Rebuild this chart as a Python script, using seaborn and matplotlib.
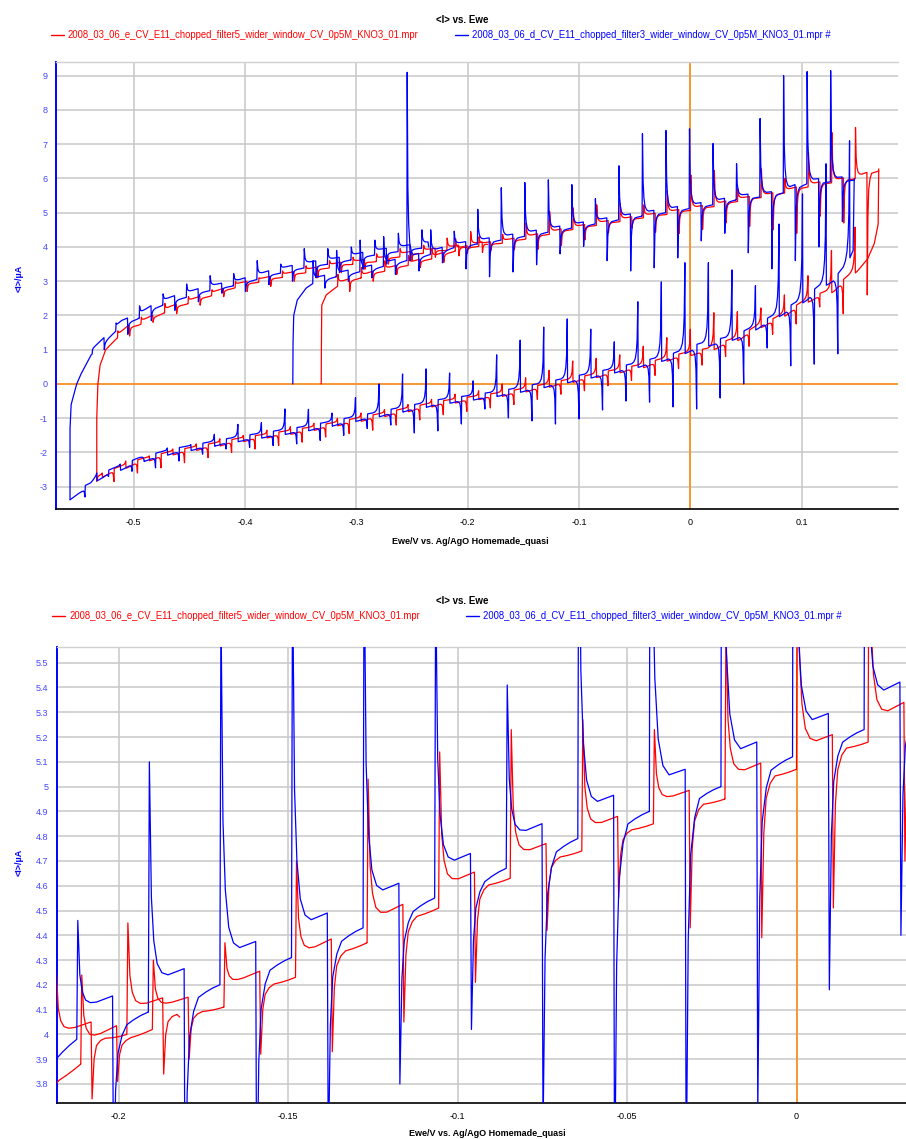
import numpy as np
import pandas as pd
import matplotlib
matplotlib.use("Agg")
import matplotlib.pyplot as plt
import seaborn as sns
from matplotlib import font_manager
from matplotlib.lines import Line2D
from matplotlib.ticker import MultipleLocator, FuncFormatter

# ---------------------------------------------------------------- data
FILES = [
    "2008_03_06_e_CV_E11_chopped_filter5_wider_window_CV_0p5M_KNO3_01.mpr",
    "2008_03_06_d_CV_E11_chopped_filter3_wider_window_CV_0p5M_KNO3_01.mpr #",
]
COLORS = ["#ff0000", "#0000ff"]

# light chopping expressed in potential units (scan rate x chop period)
CHOP = 0.02112
HALF = CHOP / 2

# --- file d (blue) --------------------------------------------------
# first anodic sweep, starting from rest potential
d_fwd1_E = [-0.357, -0.3568, -0.3562, -0.353, -0.345, -0.336, -0.315, -0.286, -0.255,
            -0.225, -0.2124, -0.1913, -0.1702, -0.149, -0.1279, -0.1068, -0.0857,
            -0.0646, -0.0434, -0.0223, -0.0012, 0.0199, 0.045, 0.075, 0.09, 0.105,
            0.125, 0.147]
d_fwd1_I = [0.0, 1.2, 2.0, 2.45, 2.8, 3.0, 3.15, 3.35, 3.6,
            3.85, 3.98, 4.09, 4.2, 4.31, 4.43, 4.55, 4.67,
            4.79, 4.9, 5.0, 5.12, 5.23, 5.4, 5.5, 5.65, 5.85,
            5.9, 5.95]
d_fwd1_first = -0.3391
d_fwd1_peaks = [3.6, 3.9, 4.2, 4.3, 9.1, 4.5, 4.46, 5.10, 5.73, 5.88, 5.96, 5.82,
                5.41, 6.37, 7.31, 7.4, 7.45, 7.02, 6.43, 7.75, 9.0, 9.12, 9.15]
d_fwd1_dips = [2.8, 3.0, 3.1, 3.2, 3.3, 3.54, 3.36, 3.13, 3.27, 3.48, 3.80, 4.02,
               3.6, 3.3, 3.39, 3.68, 4.18, 4.40, 3.83, 3.36, 3.6, 4.0, 4.74]

# cathodic sweep
d_rev_E = [0.147, 0.146, 0.138, 0.132, 0.12, 0.105, 0.09, 0.075, 0.06, 0.045, 0.03,
           0.015, 0.0, -0.015, -0.045, -0.075, -0.105, -0.135, -0.165, -0.195,
           -0.225, -0.286, -0.345, -0.405, -0.466, -0.495, -0.525, -0.534, -0.538,
           -0.55, -0.557]
d_rev_I = [6.0, 3.9, 3.3, 3.05, 2.85, 2.45, 2.15, 1.88, 1.6, 1.35, 1.2,
           1.1, 0.95, 0.75, 0.5, 0.27, 0.07, -0.13, -0.32, -0.47,
           -0.6, -1.0, -1.38, -1.68, -2.05, -2.3, -2.7, -2.85, -3.03,
           -3.22, -3.38]
d_rev_first = 0.1431
d_rev_peaks = [7.1, 6.43, 5.55, 4.67, 2.87, 3.33, 3.54, 3.54, 2.98, 2.4, 1.23, 1.6,
               1.9, 1.66, 1.28, 0.85, 0.09, 0.32, 0.44, 0.29, 0.0, -0.4, -0.85,
               -0.74, -0.73, -1.13, -1.18, -1.47, -1.77, -1.87, -2.19, -2.34, -2.6]
d_rev_dips = [0.88, 0.58, 0.53, 1.05, 0.0, -0.41, -0.73, -0.67, -0.53, -0.5, -0.76,
              -1.02, -1.17, -1.08, -0.99, -0.73, -1.17, -1.37, -1.43, -1.2, -1.3,
              -1.5, -1.65, -1.75, -1.8, -1.85, -1.9, -2.05, -2.25, -2.45, -2.55,
              -2.7, -3.3]

# second anodic sweep
d_fwd2_E = [-0.557, -0.557, -0.556, -0.551, -0.547, -0.538, -0.525, -0.511, -0.496,
            -0.481, -0.466, -0.435, -0.405, -0.376, -0.345, -0.315, -0.286, -0.255,
            -0.235]
d_fwd2_I = [-3.38, -1.3, -0.6, 0.0, 0.3, 0.85, 1.25, 1.7, 1.9,
            2.2, 2.4, 2.7, 2.9, 3.18, 3.4, 3.55, 3.75, 3.9,
            4.0]
d_fwd2_first = -0.5371
d_fwd2_peaks = [1.0, 1.78, 2.28, 2.63, 2.92, 3.16, 3.22, 3.6, 3.5, 3.95, 3.95, 4.0,
                4.2, 4.4, 4.5]
d_fwd2_dips = [1.0, 1.45, 1.85, 2.15, 2.4, 2.65, 2.7, 2.9, 3.0, 3.1, 3.25, 3.35,
               3.5, 3.6, 3.7]

# --- file e (red) ---------------------------------------------------
e_fwd1_E = [-0.3315, -0.3313, -0.331, -0.327, -0.315, -0.3, -0.286, -0.255, -0.225,
            -0.2112, -0.1901, -0.169, -0.1479, -0.1267, -0.1056, -0.0845, -0.0634,
            -0.0422, -0.0211, 0.0, 0.0212, 0.045, 0.075, 0.105, 0.135, 0.15, 0.159,
            0.169]
e_fwd1_I = [0.0, 1.2, 2.3, 2.6, 2.9, 3.05, 3.2, 3.45, 3.72,
            3.88, 4.02, 4.11, 4.23, 4.37, 4.51, 4.63, 4.74,
            4.85, 4.95, 5.07, 5.18, 5.35, 5.5, 5.75, 5.92, 6.0, 6.1,
            6.22]
e_fwd1_first = -0.3168
e_fwd1_peaks = [3.2, 3.4, 3.6, 3.75, 3.95, 4.24, 4.30, 4.37, 4.70, 5.03, 5.14, 5.23,
                5.27, 5.23, 5.64, 6.1, 6.23, 5.7, 6.28, 6.0, 6.75, 7.34, 7.49]
e_fwd1_dips = [2.7, 3.0, 3.2, 3.4, 3.55, 3.81, 3.90, 3.92, 3.93, 4.05, 4.21, 4.42,
               4.55, 4.43, 4.39, 4.51, 4.70, 4.6, 4.5, 4.4, 4.9, 4.7, 2.6]

e_rev_E = [0.169, 0.1685, 0.165, 0.159, 0.15, 0.138, 0.128, 0.105, 0.09, 0.075, 0.06,
           0.045, 0.03, 0.015, 0.0, -0.015, -0.045, -0.075, -0.105, -0.135, -0.165,
           -0.195, -0.225, -0.286, -0.345, -0.405, -0.466, -0.495, -0.525, -0.533]
e_rev_I = [6.28, 4.67, 4.1, 3.65, 3.3, 2.95, 2.68, 2.38, 2.08, 1.8, 1.6,
           1.3, 1.12, 0.92, 0.83, 0.72, 0.45, 0.25, 0.05, -0.15, -0.34,
           -0.48, -0.62, -1.03, -1.4, -1.7, -2.08, -2.32, -2.68, -2.84]
e_rev_first = 0.148
e_rev_peaks = [4.58, 3.9, 3.16, 2.6, 2.22, 2.11, 2.08, 1.6, 1.35, 1.1, 0.85, 0.75,
               0.67, 0.4, 0.18, 0.0, -0.2, -0.3, -0.45, -0.6, -0.75, -0.85, -1.0,
               -1.15, -1.25, -1.35, -1.5, -1.6, -1.75, -1.9, -2.1, -2.25, -2.6]
e_rev_dips = [2.05, 2.25, 1.75, 1.45, 1.1, 0.8, 0.55, 0.45, 0.25, 0.1, -0.05, -0.2,
              -0.3, -0.45, -0.6, -0.7, -0.8, -0.9, -1.05, -1.2, -1.35, -1.45, -1.55,
              -1.7, -1.8, -1.9, -2.0, -2.15, -2.3, -2.45, -2.6, -2.85]

e_fwd2_E = [-0.533, -0.533, -0.532, -0.53, -0.525, -0.516, -0.505, -0.495, -0.48,
            -0.466, -0.435, -0.405, -0.376, -0.345, -0.315, -0.286, -0.255, -0.225,
            -0.2189, -0.1976, -0.182]
e_fwd2_I = [-2.84, -1.0, 0.0, 0.55, 1.0, 1.3, 1.6, 1.72, 1.95,
            2.18, 2.52, 2.85, 3.05, 3.25, 3.45, 3.55, 3.75, 3.88,
            3.9, 4.0, 4.07]
e_fwd2_first = -0.5144
e_fwd2_peaks = [1.55, 1.95, 2.35, 2.55, 2.75, 3.0, 3.1, 3.3, 3.45, 3.6, 3.7, 3.8,
                3.95, 4.05, 4.26, 4.45]
e_fwd2_dips = [1.4, 1.8, 2.05, 2.3, 2.55, 2.7, 2.85, 3.0, 3.1, 3.25, 3.35, 3.5,
               3.6, 3.7, 3.74, 3.84]

# photocurrent step and dark-current sag after each light-off
PHOTO = {"d_fwd": 0.12, "d_rev": 0.15, "e_fwd": 0.085, "e_rev": 0.12}
SAG = {"d_fwd": 0.17, "d_rev": 0.10, "e_fwd": 0.06, "e_rev": 0.05}

# transient shape after a light edge: (potential offset, remaining fraction)
ON_DECAY = ((0.0009, 0.38), (0.0016, 0.18), (0.0026, 0.07), (0.0040, 0.02))
OFF_RECOVER = ((0.0009, 0.35), (0.0016, 0.13), (0.0028, 0.04))


# ---------------------------------------------------------------- trace assembly
def sweep(kE, kI, first, peaks, dips, photo, sag):
    """Chopped-light sweep: dark current through the knots, a photocurrent
    plateau while the light is on, a transient at every light edge."""
    kE = np.asarray(kE, float)
    kI = np.asarray(kI, float)
    d = 1.0 if kE[-1] > kE[0] else -1.0
    end = kE[-1]

    def dark(x):
        return float(np.interp(d * x, d * kE, kI))

    pts = [(x, y) for x, y in zip(kE, kI) if d * x < d * first]
    for k, p in enumerate(peaks):
        e = first + d * k * CHOP
        o = e + d * HALF
        if d * e > d * end:
            break
        lit = dark(e) + photo
        pts.append((e, dark(e)))
        pts.append((e + d * 0.0003, p))
        for off, w in ON_DECAY:
            x = e + d * off
            pts.append((x, dark(x) + photo + w * (p - lit)))
        for f in (0.55, 0.8, 1.0):
            x = e + d * f * HALF
            pts.append((x, dark(x) + photo))
        t = dips[k] if k < len(dips) else None

        def relax(x):
            f = min(max(d * (x - o) / HALF, 0.0), 1.0)
            return dark(x) + (photo - sag) * (1.0 - f) ** 2

        if t is not None:
            pts.append((o + d * 0.0003, t))
            for off, w in OFF_RECOVER:
                x = o + d * off
                b = relax(x)
                pts.append((x, b + w * (t - b)))
        for f in (0.4, 0.6, 0.8, 1.0):
            x = o + d * f * HALF
            pts.append((x, relax(x)))
    pts = [(x, y) for x, y in pts if d * x <= d * end + 1e-9]
    last = pts[-1][0]
    pts += [(x, y) for x, y in zip(kE, kI) if d * x > d * last]
    arr = np.array(pts)
    return arr[:, 0], arr[:, 1]


segments = [
    (FILES[0], "e1", sweep(e_fwd1_E, e_fwd1_I, e_fwd1_first, e_fwd1_peaks, e_fwd1_dips, PHOTO["e_fwd"], SAG["e_fwd"])),
    (FILES[0], "e2", sweep(e_rev_E, e_rev_I, e_rev_first, e_rev_peaks, e_rev_dips, PHOTO["e_rev"], SAG["e_rev"])),
    (FILES[0], "e3", sweep(e_fwd2_E, e_fwd2_I, e_fwd2_first, e_fwd2_peaks, e_fwd2_dips, 0.10, 0.06)),
    (FILES[1], "d1", sweep(d_fwd1_E, d_fwd1_I, d_fwd1_first, d_fwd1_peaks, d_fwd1_dips, PHOTO["d_fwd"], SAG["d_fwd"])),
    (FILES[1], "d2", sweep(d_rev_E, d_rev_I, d_rev_first, d_rev_peaks, d_rev_dips, PHOTO["d_rev"], SAG["d_rev"])),
    (FILES[1], "d3", sweep(d_fwd2_E, d_fwd2_I, d_fwd2_first, d_fwd2_peaks, d_fwd2_dips, 0.15, 0.15)),
]
frames = []
for name, seg, (E, I) in segments:
    frames.append(pd.DataFrame({"Ewe": E, "I": I, "file": name, "seg": seg}))
df = pd.concat(frames, ignore_index=True)

# ---------------------------------------------------------------- style
sns.set_theme(style="white")
_names = {f.name for f in font_manager.fontManager.ttflist}
FONT = "Liberation Sans Narrow" if "Liberation Sans Narrow" in _names else "Liberation Sans"
plt.rcParams["font.family"] = [FONT, "DejaVu Sans"]
plt.rcParams["axes.unicode_minus"] = False

W, H = 906, 1139
fig = plt.figure(figsize=(W / 100, H / 100), dpi=100)


def fx(px):
    return px / W


def fy(py):
    return 1 - py / H


def fmt(v, pos):
    s = f"{v:.2f}".rstrip("0").rstrip(".")
    return "0" if s in ("-0", "0") else s


def panel(rect, xlim, ylim, xmaj, xmin, ymaj, ymin, title_y, legend_y, leg_x, xlabel_y,
          ylabel_y, xlabel_x, hline):
    ax = fig.add_axes(rect)
    sns.lineplot(data=df, x="Ewe", y="I", hue="file", units="seg", estimator=None,
                 sort=False, palette=COLORS, hue_order=FILES, linewidth=0.9,
                 legend=False, ax=ax, zorder=3)
    ax.set_xlim(*xlim)
    ax.set_ylim(*ylim)
    ax.xaxis.set_major_locator(MultipleLocator(xmaj))
    ax.xaxis.set_minor_locator(MultipleLocator(xmin))
    ax.yaxis.set_major_locator(MultipleLocator(ymaj))
    ax.yaxis.set_minor_locator(MultipleLocator(ymin))
    ax.xaxis.set_major_formatter(FuncFormatter(fmt))
    ax.yaxis.set_major_formatter(FuncFormatter(fmt))
    ax.grid(True, which="major", color="#c8c8c8", linewidth=1.1, zorder=0)
    ax.set_axisbelow(True)
    ax.axvline(0, color="#ff8c1a", linewidth=1.2, zorder=2)
    if hline:
        ax.axhline(0, color="#ff8c1a", linewidth=1.2, zorder=2)
    ax.spines["right"].set_visible(False)
    ax.spines["top"].set_color("#d0d0d0")
    ax.spines["top"].set_linewidth(1.0)
    ax.spines["left"].set_color("#0000ff")
    ax.spines["left"].set_linewidth(1.4)
    ax.spines["bottom"].set_color("#000000")
    ax.spines["bottom"].set_linewidth(1.2)
    ax.tick_params(axis="x", which="major", direction="out", length=4, width=0.8,
                   colors="#000000", labelsize=6.5, pad=2)
    ax.tick_params(axis="x", which="minor", direction="out", length=2.5, width=0.8,
                   colors="#000000")
    ax.tick_params(axis="y", which="major", direction="out", length=4, width=0.8,
                   colors="#0000ff", labelsize=6.5, labelcolor="#4444ff", pad=2)
    ax.tick_params(axis="y", which="minor", direction="out", length=2.5, width=0.8,
                   colors="#0000ff")
    ax.set_xlabel("")
    ax.set_ylabel("")

    fig.text(fx(462), fy(title_y), "<I> vs. Ewe", ha="center", va="center",
             fontsize=7, fontweight="bold", color="#000000")
    rx, bx = leg_x
    for x0, col, lab in ((rx, COLORS[0], FILES[0]), (bx, COLORS[1], FILES[1])):
        fig.add_artist(Line2D([fx(x0), fx(x0 + 13)], [fy(legend_y), fy(legend_y)],
                              transform=fig.transFigure, color=col, linewidth=1.0))
        fig.text(fx(x0 + 17), fy(legend_y), lab, ha="left", va="center",
                 fontsize=6.85, color=col)
    fig.text(fx(xlabel_x), fy(xlabel_y), "Ewe/V vs. Ag/AgO Homemade_quasi",
             ha="center", va="center", fontsize=6.5, fontweight="bold", color="#000000")
    fig.text(fx(19), fy(ylabel_y), "<I>/µA", ha="center", va="center", rotation=90,
             fontsize=6.5, fontweight="bold", color="#0000ff")
    return ax


# full cycles
panel([fx(56), fy(509.3), (898 - 56) / W, (509.3 - 61.7) / H],
      (-0.5696, 0.1863), (-3.66, 9.41), 0.1, 0.02, 1, 0.2,
      title_y=20, legend_y=35, leg_x=(51, 455), xlabel_y=541, ylabel_y=278,
      xlabel_x=470, hline=True)

# zoom on the anodic branch
panel([fx(56.7), fy(1103.3), (906 - 56.7) / W, (1103.3 - 646.7) / H],
      (-0.2183, 0.0323), (3.722, 5.5646), 0.05, 0.01, 0.1, 0.05,
      title_y=601, legend_y=616, leg_x=(52, 466), xlabel_y=1134, ylabel_y=862,
      xlabel_x=487, hline=False)

fig.savefig("out.png", dpi=100)
